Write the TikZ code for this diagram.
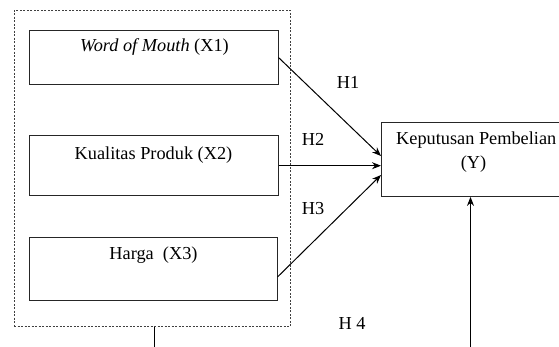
\documentclass[tikz,border=0pt]{standalone}
\usepackage{fontspec}
\setmainfont{Liberation Serif}
\usetikzlibrary{arrows.meta}
\begin{document}
\begin{tikzpicture}[x=1pt,y=-1pt,
  box/.style={draw=black!85,line width=0.9pt,inner sep=0pt,fill=white},
  grp/.style={draw=black!75,dashed,dash pattern=on 2pt off 1.5pt,line width=0.8pt,inner sep=0pt},
  lbl/.style={font=\fontsize{18.3}{22}\selectfont,inner sep=0pt,text=black},
  conn/.style={draw=black,line width=1pt},
  arr/.style={conn,-{Stealth[length=9pt,width=7pt]}}]
\useasboundingbox (0,0) rectangle (559,347);
\node[grp,minimum width=276pt,minimum height=316.5pt] (grp) at (152,168.3) {};
\node[box,minimum width=248.7pt,minimum height=53.3pt] (x1) at (153.7,57.4) {};
\node[box,minimum width=248.5pt,minimum height=59.3pt] (x2) at (153.8,165.4) {};
\node[box,minimum width=247.5pt,minimum height=62.3pt] (x3) at (153.3,268.9) {};
\node[box,minimum width=192pt,minimum height=74pt,anchor=north west] (y) at (381,122) {};
\node[lbl] (tx1) at (154.5,47) {\textit{Word of Mouth} (X1)};
\node[lbl] (tx2) at (153.5,155) {Kualitas Produk (X2)};
\node[lbl] (tx3) at (153.5,255) {Harga\ \ (X3)};
\node[lbl,anchor=west] (ty1) at (396,140) {Keputusan Pembelian};
\node[lbl] (ty2) at (473.5,164) {(Y)};
\node[lbl] (h1) at (348,82) {H1};
\node[lbl] (h2) at (313,139) {H2};
\node[lbl] (h3) at (313,209) {H3};
\node[lbl] (h4) at (352,323) {H 4};
\coordinate (gb) at (154,347);
\coordinate (yb) at (470.5,347);
\draw[arr] (x1.east |- 0,57.5) -- (381,156);
\draw[arr] (x2.east |- 0,165.7) -- (381,165.7);
\draw[arr] (x3.east |- 0,277) -- (381,175);
\draw[conn] (grp.south -| gb) -- (gb);
\draw[arr] (yb) -- (y.south -| yb);
\end{tikzpicture}
\end{document}
